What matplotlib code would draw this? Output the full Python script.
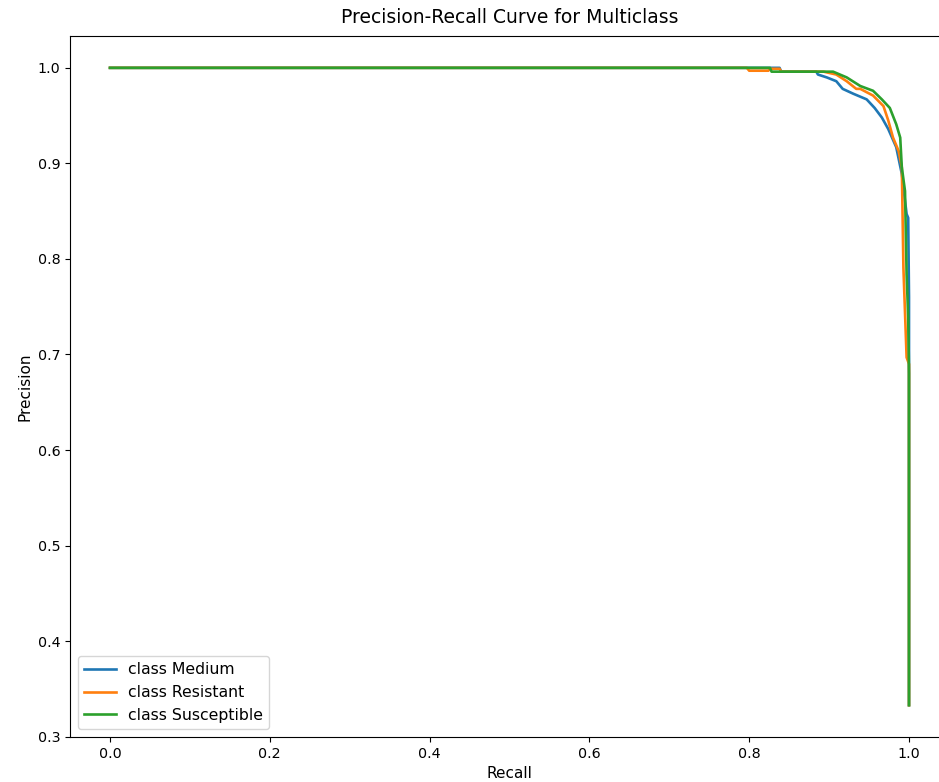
import matplotlib
matplotlib.use("Agg")
import matplotlib.pyplot as plt

classes = ["Medium", "Resistant", "Susceptible"]

recall_medium = [0.0, 0.838, 0.840, 0.884, 0.886, 0.897, 0.909, 0.917, 0.930, 0.947,
                 0.957, 0.966, 0.974, 0.984, 0.991, 0.997, 0.999, 1.0, 1.0]
precision_medium = [1.0, 1.0, 0.996, 0.996, 0.993, 0.990, 0.986, 0.978, 0.973, 0.967,
                    0.958, 0.948, 0.936, 0.917, 0.889, 0.847, 0.843, 0.76, 0.333]

recall_resistant = [0.0, 0.797, 0.800, 0.824, 0.826, 0.838, 0.840, 0.893, 0.909, 0.922,
                    0.934, 0.939, 0.955, 0.968, 0.974, 0.980, 0.987, 0.991, 0.993, 0.997,
                    1.0, 1.0]
precision_resistant = [1.0, 1.0, 0.997, 0.997, 0.999, 0.999, 0.996, 0.996, 0.993, 0.986,
                       0.978, 0.978, 0.971, 0.960, 0.945, 0.927, 0.913, 0.896, 0.791, 0.697,
                       0.69, 0.333]

recall_susceptible = [0.0, 0.826, 0.828, 0.905, 0.922, 0.939, 0.955, 0.966, 0.976, 0.984,
                      0.989, 0.991, 0.995, 0.997, 0.999, 1.0, 1.0]
precision_susceptible = [1.0, 1.0, 0.996, 0.996, 0.990, 0.981, 0.976, 0.967, 0.958, 0.941,
                         0.927, 0.896, 0.871, 0.784, 0.739, 0.68, 0.333]

recalls = [recall_medium, recall_resistant, recall_susceptible]
precisions = [precision_medium, precision_resistant, precision_susceptible]

fig = plt.figure(figsize=(9.39, 7.82), dpi=100)
# the reference is cropped on the right, so the axes run past the figure edge
ax = fig.add_axes([0.0746, 0.0575, 0.936, 0.8965])

for name, r, p in zip(classes, recalls, precisions):
    ax.plot(r, p, lw=1.9, label="class " + name)

ax.set_xlabel("Recall", fontsize=11)
ax.set_ylabel("Precision", fontsize=11)
ax.set_title("Precision-Recall Curve for Multiclass", fontsize=13.5, pad=9)
ax.tick_params(labelsize=10.3)
ax.legend(loc="lower left", fontsize=11.3)

fig.savefig("out.png", dpi=100)
